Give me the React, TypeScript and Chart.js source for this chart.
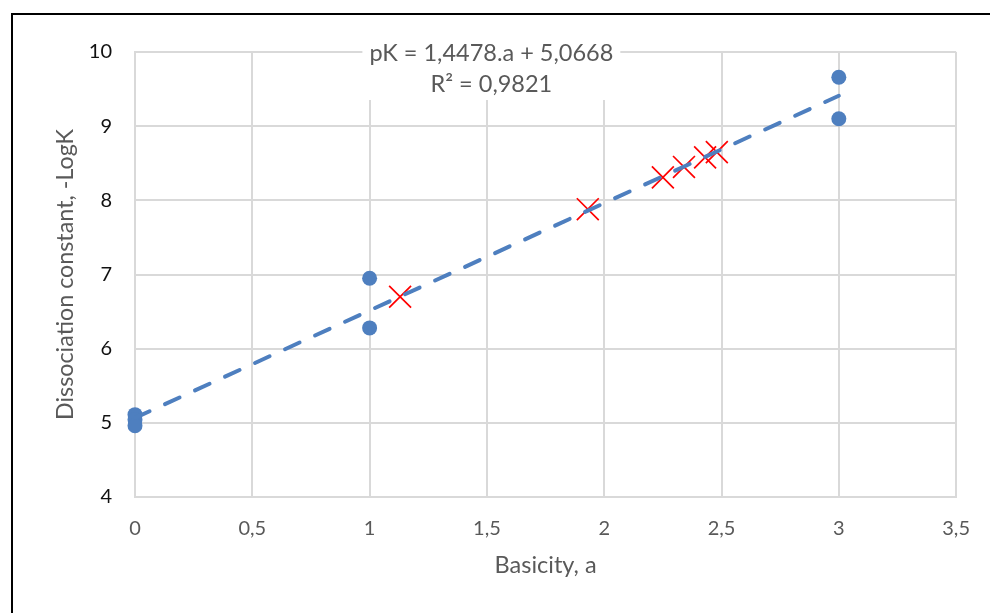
import React, { useEffect, useRef } from 'react';
import { Chart, registerables } from 'chart.js';

Chart.register(...registerables);

// ---- data ----
const basicityMeasured = [0, 0, 0, 1, 1, 3, 3];
const pkMeasured = [5.11, 5.04, 4.96, 6.95, 6.28, 9.66, 9.1];
const basicityPredicted = [1.13, 1.93, 2.25, 2.34, 2.43, 2.48];
const pkPredicted = [6.7, 7.88, 8.31, 8.45, 8.58, 8.65];
const trendSlope = 1.4478;
const trendIntercept = 5.0668;
const trendRange = [0, 3];
const equationLines = ['pK = 1,4478.a + 5,0668', 'R\u00B2 = 0,9821'];
const xTitle = 'Basicity, a';
const yTitle = 'Dissociation constant, -LogK';

const FONT = 'Lato, "Open Sans", sans-serif';
const BLUE = '#4e7fbf';
const GRID = '#d9d9d9';
const GRAY_TEXT = '#595959';

const fmt = (v: number | string) => String(v).replace('.', ',');

const equationPlugin = {
  id: 'equationBox',
  afterDraw(chart: any) {
    const { ctx, chartArea } = chart;
    const cx = chartArea.left + (chartArea.right - chartArea.left) * 0.434;
    const top = chartArea.top - 14;
    ctx.save();
    ctx.font = `23.5px ${FONT}`;
    const w = Math.max(...equationLines.map((l) => ctx.measureText(l).width)) + 14;
    ctx.fillStyle = '#ffffff';
    ctx.fillRect(cx - w / 2, top, w, 62);
    ctx.fillStyle = GRAY_TEXT;
    ctx.textAlign = 'center';
    ctx.textBaseline = 'middle';
    equationLines.forEach((l, i) => ctx.fillText(l, cx, top + 15 + i * 31));
    ctx.restore();
  },
};

export default function App() {
  const ref = useRef<HTMLCanvasElement>(null);

  useEffect(() => {
    if (!ref.current) return;
    const trendData = trendRange.map((x) => ({ x, y: trendSlope * x + trendIntercept }));
    const chart = new Chart(ref.current, {
      type: 'scatter',
      data: {
        datasets: [
          {
            label: 'trend',
            data: trendData,
            showLine: true,
            borderColor: BLUE,
            borderWidth: 4,
            borderDash: [16, 17],
            borderCapStyle: 'round',
            pointRadius: 0,
            order: 0,
            clip: false,
          } as any,
          {
            label: 'predicted',
            data: basicityPredicted.map((x, i) => ({ x, y: pkPredicted[i] })),
            pointStyle: 'crossRot',
            pointRadius: 15.5,
            borderColor: '#ff0000',
            backgroundColor: '#ff0000',
            pointBorderWidth: 1.7,
            order: 1,
            clip: false,
          } as any,
          {
            label: 'measured',
            data: basicityMeasured.map((x, i) => ({ x, y: pkMeasured[i] })),
            pointStyle: 'circle',
            pointRadius: 7.5,
            backgroundColor: BLUE,
            borderColor: BLUE,
            pointBorderWidth: 0,
            order: 2,
            clip: false,
          } as any,
        ],
      },
      options: {
        responsive: false,
        animation: false,
        devicePixelRatio: 1,
        layout: { padding: { left: 0, top: 52, right: 33, bottom: 0 } },
        plugins: { legend: { display: false }, tooltip: { enabled: false } },
        scales: {
          x: {
            type: 'linear',
            min: 0,
            max: 3.5,
            afterFit: (s: any) => {
              s.height = 116;
            },
            ticks: {
              stepSize: 0.5,
              padding: 20,
              color: GRAY_TEXT,
              font: { family: FONT, size: 20 },
              callback: (v: any) => fmt(v),
            },
            grid: { color: GRID, lineWidth: 2, drawTicks: false },
            border: { color: GRID, width: 2 },
            title: {
              display: true,
              text: xTitle,
              color: GRAY_TEXT,
              font: { family: FONT, size: 23.5 },
              padding: { top: 0, bottom: 33 },
            },
          },
          y: {
            type: 'linear',
            min: 4,
            max: 10,
            afterFit: (s: any) => {
              s.width = 135;
            },
            ticks: {
              stepSize: 1,
              padding: 23,
              color: '#111111',
              font: { family: FONT, size: 20 },
              callback: (v: any) => fmt(v),
            },
            grid: { color: GRID, lineWidth: 2, drawTicks: false },
            border: { color: GRID, width: 2 },
            title: {
              display: true,
              text: yTitle,
              color: GRAY_TEXT,
              font: { family: FONT, size: 23.3 },
              padding: { top: 51, bottom: 0 },
            },
          },
        },
      },
      plugins: [equationPlugin],
    });
    return () => chart.destroy();
  }, []);

  return (
    <div style={{ position: 'absolute', left: 0, top: 0, width: 990, height: 613, overflow: 'hidden', background: '#fff' }}>
      <canvas ref={ref} width={990} height={613} style={{ position: 'absolute', left: 0, top: 0, width: 990, height: 613 }} />
      <div
        style={{
          position: 'absolute',
          left: 11,
          top: 13,
          width: 1200,
          height: 800,
          borderLeft: '2px solid #000',
          borderTop: '2px solid #000',
          pointerEvents: 'none',
        }}
      />
    </div>
  );
}
